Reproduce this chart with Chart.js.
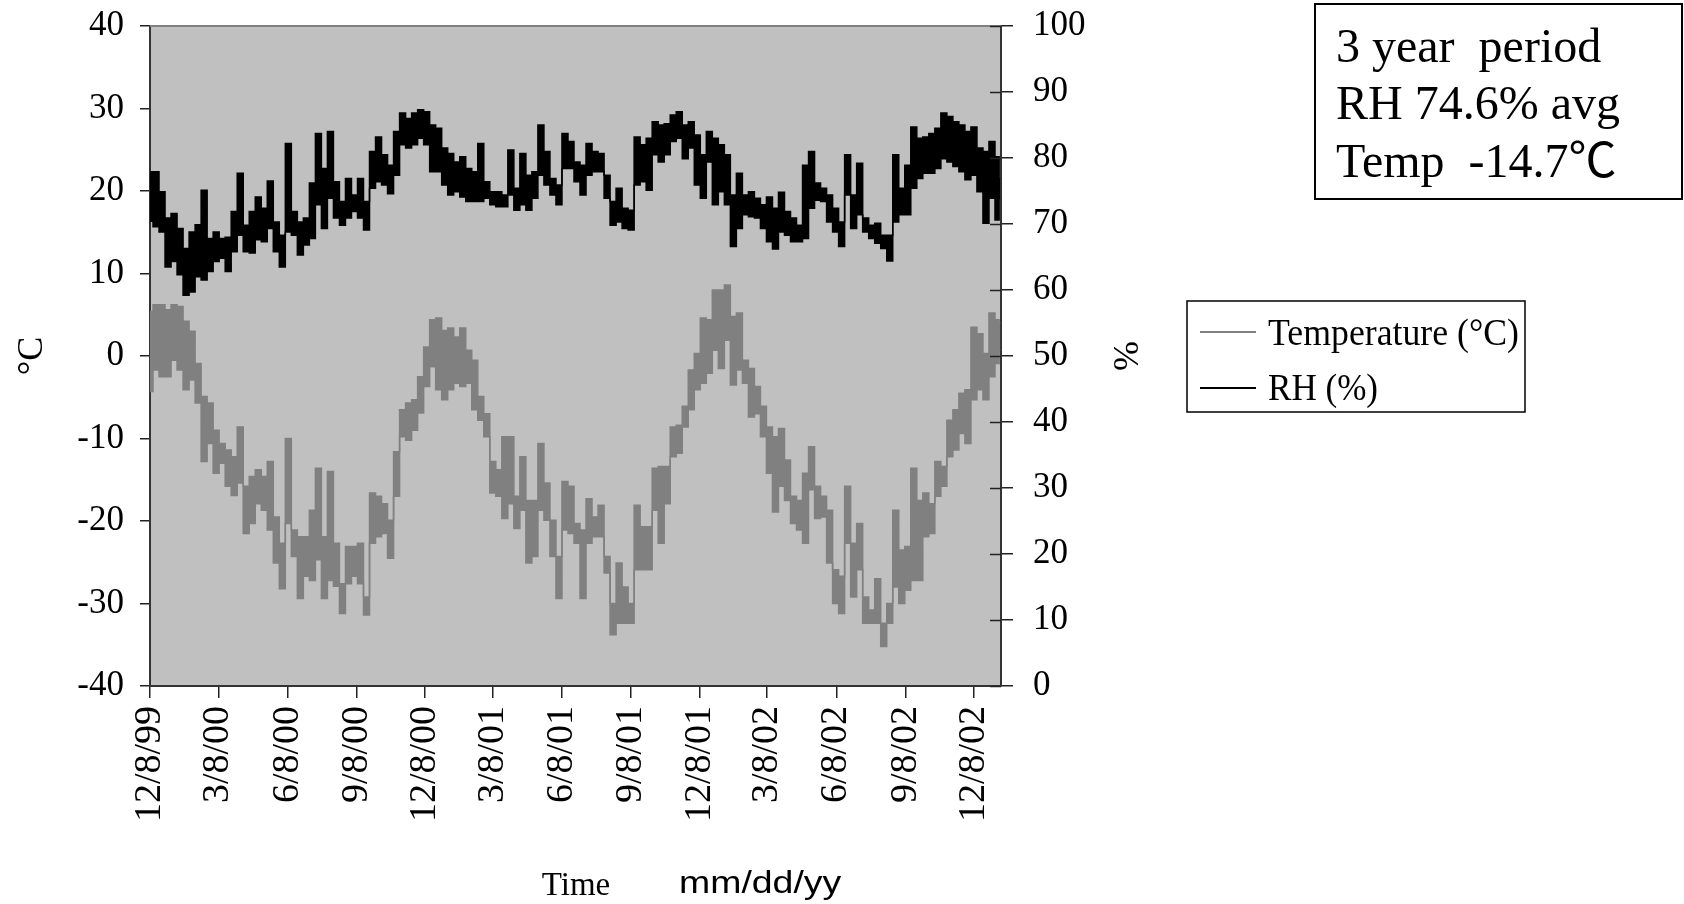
<!DOCTYPE html>
<html>
<head>
<meta charset="utf-8">
<title>3 year period - Temperature and RH</title>
<script src="https://cdn.jsdelivr.net/npm/chart.js@4.4.1/dist/chart.umd.min.js"></script>
<style>
  html, body { margin: 0; padding: 0; background: #fff; }
  #wrap { width: 1684px; height: 904px; }
</style>
</head>
<body>
<div id="wrap"><canvas id="climateChart" width="1684" height="904"></canvas></div>
<script>
// sample days counted from 12/8/99, each with the high and low edge of the trace
const days = [
  0, 8, 16, 24, 32, 40, 48, 56, 64, 72,
  80, 88, 96, 104, 112, 120, 128, 136, 144, 152,
  160, 168, 176, 184, 192, 200, 208, 216, 224, 232,
  240, 248, 256, 264, 272, 280, 288, 296, 304, 312,
  320, 328, 336, 344, 352, 360, 368, 376, 384, 392,
  400, 408, 416, 424, 432, 440, 448, 456, 464, 472,
  480, 488, 496, 504, 512, 520, 528, 536, 544, 552,
  560, 568, 576, 584, 592, 600, 608, 616, 624, 632,
  640, 648, 656, 664, 672, 680, 688, 696, 704, 712,
  720, 728, 736, 744, 752, 760, 768, 776, 784, 792,
  800, 808, 816, 824, 832, 840, 848, 856, 864, 872,
  880, 888, 896, 904, 912, 920, 928, 936, 944, 952,
  960, 968, 976, 984, 992, 1000, 1008, 1016, 1024, 1032,
  1040, 1048, 1056, 1064, 1072, 1080, 1088, 1096, 1104, 1112,
  1120, 1128, 1131
];

const rhHigh = [
  77.9, 77.9, 74.9, 70.9, 71.6, 69.3, 66.3, 68.8, 69.9, 75.1,
  67.8, 68.8, 67.8, 68.0, 71.9, 77.7, 69.8, 71.9, 74.1, 72.4,
  76.5, 70.3, 68.3, 82.2, 71.9, 70.3, 70.9, 76.2, 83.7, 78.4,
  84.0, 76.4, 73.4, 76.9, 74.4, 76.9, 73.4, 81.0, 83.2, 80.5,
  78.9, 84.0, 86.8, 86.0, 86.8, 87.3, 87.0, 85.0, 84.5, 81.5,
  80.7, 79.4, 80.2, 78.4, 77.9, 82.2, 76.4, 74.9, 74.9, 74.4,
  81.2, 75.4, 80.7, 77.4, 77.9, 85.0, 81.0, 76.9, 75.9, 83.7,
  82.5, 79.4, 78.9, 82.2, 81.0, 80.7, 77.4, 73.4, 75.4, 72.4,
  72.1, 83.2, 82.0, 83.0, 85.5, 85.0, 85.2, 86.5, 87.0, 85.0,
  85.5, 83.5, 80.5, 84.0, 83.0, 82.0, 80.5, 74.4, 77.7, 74.4,
  74.9, 73.9, 72.9, 74.1, 72.4, 74.8, 71.9, 70.9, 69.8, 78.9,
  81.0, 76.2, 75.4, 74.4, 72.4, 70.3, 80.5, 74.4, 79.2, 70.9,
  69.8, 70.1, 68.3, 68.3, 80.5, 75.4, 78.9, 84.7, 83.0, 83.2,
  83.7, 84.5, 86.8, 86.3, 85.5, 85.0, 84.0, 84.7, 81.5, 81.0,
  82.5, 80.2, 76.9
];

const rhLow = [
  70.4, 69.6, 68.8, 63.5, 64.3, 62.3, 59.2, 59.7, 62.0, 61.5,
  62.8, 64.3, 64.8, 62.8, 65.8, 68.3, 65.8, 65.6, 67.6, 67.3,
  69.3, 65.8, 63.5, 68.8, 68.3, 65.3, 66.8, 67.8, 72.9, 69.3,
  73.9, 70.9, 69.8, 70.9, 71.9, 70.9, 69.1, 75.4, 76.4, 75.9,
  74.6, 77.4, 82.0, 81.5, 82.0, 83.0, 82.0, 77.9, 77.9, 75.9,
  74.4, 74.9, 74.1, 73.4, 73.4, 73.4, 73.9, 72.9, 72.6, 72.6,
  74.4, 72.1, 72.9, 72.1, 73.9, 77.4, 75.9, 74.4, 72.9, 78.4,
  78.4, 76.4, 74.4, 77.4, 77.9, 77.9, 73.9, 69.8, 70.3, 69.3,
  69.1, 75.9, 76.4, 75.1, 80.5, 79.4, 80.5, 82.5, 83.0, 79.9,
  81.5, 75.9, 73.9, 79.4, 72.9, 74.9, 72.9, 66.6, 69.3, 71.4,
  71.1, 70.9, 69.3, 67.3, 66.2, 68.8, 68.3, 67.3, 67.3, 67.8,
  72.4, 73.6, 73.4, 70.3, 68.8, 66.6, 74.4, 69.3, 71.4, 68.8,
  67.8, 67.1, 66.3, 64.4, 70.3, 71.4, 71.4, 75.4, 76.9, 77.7,
  77.7, 78.4, 79.9, 79.4, 78.7, 77.9, 76.7, 77.4, 74.9, 70.1,
  73.9, 70.6, 73.9
];

const tempHigh = [
  5.4, 6.2, 6.2, 5.6, 6.2, 6.0, 4.2, 3.0, -0.9, -4.9,
  -5.7, -9.0, -10.6, -11.4, -12.2, -8.6, -15.8, -14.6, -13.8, -14.6,
  -12.8, -19.5, -22.7, -10.0, -21.1, -21.9, -21.9, -18.7, -13.6, -21.9,
  -14.0, -22.7, -27.6, -23.1, -23.1, -22.7, -29.2, -16.6, -17.0, -17.9,
  -19.9, -11.6, -6.5, -5.7, -5.3, -2.5, 1.1, 4.4, 4.6, 3.1,
  3.4, 2.3, 3.4, 0.7, -0.5, -4.9, -7.0, -12.8, -13.8, -9.8,
  -9.8, -17.0, -12.2, -17.5, -17.5, -10.6, -15.4, -19.9, -24.3, -15.2,
  -15.8, -20.3, -21.1, -17.3, -19.5, -18.1, -24.3, -30.0, -25.1, -28.0,
  -30.0, -18.1, -20.7, -20.7, -13.6, -13.4, -13.4, -8.6, -8.4, -6.1,
  -1.7, 0.3, 4.6, 4.4, 8.0, 8.0, 8.6, 4.8, 5.2, -0.5,
  -1.5, -3.7, -6.1, -8.6, -9.8, -8.8, -12.6, -17.0, -17.5, -14.2,
  -11.0, -15.8, -17.0, -18.7, -25.9, -26.7, -15.8, -22.7, -20.3, -29.2,
  -30.8, -27.0, -32.4, -30.0, -18.7, -23.5, -23.1, -13.6, -17.5, -16.6,
  -17.9, -12.8, -13.4, -7.8, -6.5, -4.5, -4.1, 3.5, 2.7, 0.3,
  5.2, 4.4, 4.0
];

const tempLow = [
  -4.3, -1.7, -2.5, -2.5, -0.5, -1.7, -4.1, -2.9, -5.7, -12.8,
  -10.6, -14.2, -13.0, -15.8, -16.9, -15.4, -21.5, -20.3, -17.9, -18.7,
  -21.1, -25.1, -28.2, -20.3, -24.3, -29.4, -26.7, -27.2, -24.7, -29.4,
  -27.2, -27.9, -31.2, -27.6, -26.7, -27.6, -31.4, -22.7, -21.9, -21.5,
  -24.5, -17.0, -9.8, -10.2, -9.0, -6.9, -3.7, -1.3, -4.1, -5.3,
  -4.1, -3.3, -3.7, -3.3, -6.5, -7.8, -9.8, -16.6, -17.0, -19.7,
  -17.9, -20.9, -18.7, -25.1, -24.3, -18.7, -19.9, -24.3, -29.4, -21.1,
  -21.5, -22.7, -29.4, -22.7, -21.9, -21.9, -26.3, -33.8, -32.4, -32.4,
  -32.4, -25.9, -25.9, -25.9, -18.7, -22.7, -17.9, -12.2, -11.8, -8.6,
  -6.5, -4.1, -3.3, -2.1, 0.7, -1.5, 1.9, -3.5, -1.7, -3.3,
  -7.4, -7.0, -9.8, -14.2, -18.9, -15.8, -17.5, -20.3, -21.1, -22.7,
  -16.2, -19.7, -19.5, -25.1, -30.0, -31.2, -22.7, -29.2, -25.9, -32.4,
  -32.4, -32.4, -35.2, -32.4, -28.0, -30.0, -28.4, -27.2, -27.2, -21.9,
  -21.5, -17.0, -15.8, -12.2, -11.4, -9.4, -10.6, -5.3, -4.1, -5.3,
  -2.5, -0.9, 0.7
];

// x axis: day offsets of the date ticks and their labels
const tickDays = [0, 91, 183, 275, 366, 456, 548, 640, 731, 821, 913, 1005, 1096];
const tickLabels = ['12/8/99', '3/8/00', '6/8/00', '9/8/00', '12/8/00', '3/8/01', '6/8/01',
  '9/8/01', '12/8/01', '3/8/02', '6/8/02', '9/8/02', '12/8/02'];
const lastDay = 1132;

const seriesNames = ['Temperature (\u00B0C)', 'RH (%)'];
const noteLines = ['3 year  period', 'RH 74.6% avg', 'Temp  -14.7\u2103'];

const SERIF = "'Liberation Serif', 'Times New Roman', serif";
const GREY = '#808080';

function pts(vals) {
  return days.map((d, i) => ({ x: d, y: vals[i] }));
}

// keep the label padding from pushing the plot area down
function fixWidth(w) {
  return scale => {
    scale.width = w;
    scale.paddingTop = 21;
    scale.paddingBottom = 21;
  };
}

// background, box text, legend, inner ticks of the right axis
const decor = {
  id: 'decor',
  beforeDraw(chart) {
    const { ctx, chartArea: a } = chart;
    ctx.save();
    ctx.fillStyle = '#fff';
    ctx.fillRect(0, 0, chart.width, chart.height);
    ctx.fillStyle = '#c0c0c0';
    ctx.fillRect(a.left, a.top, a.right - a.left, a.bottom - a.top);
    ctx.restore();
  },
  afterDraw(chart) {
    const { ctx, chartArea: a } = chart;
    ctx.save();

    ctx.strokeStyle = GREY;
    ctx.lineWidth = 2;
    ctx.beginPath();
    ctx.moveTo(a.left, a.top);
    ctx.lineTo(a.right, a.top);
    ctx.stroke();

    const y1 = chart.scales.y1;
    ctx.strokeStyle = '#222';
    ctx.lineWidth = 1.5;
    y1.ticks.forEach(t => {
      const py = Math.round(y1.getPixelForValue(t.value)) + 0.5;
      ctx.beginPath();
      ctx.moveTo(a.right - 11, py);
      ctx.lineTo(a.right, py);
      ctx.stroke();
    });

    // summary box
    ctx.fillStyle = '#fff';
    ctx.fillRect(1315, 4, 367, 195);
    ctx.strokeStyle = '#000';
    ctx.lineWidth = 2;
    ctx.strokeRect(1315, 4, 367, 195);
    ctx.fillStyle = '#000';
    ctx.textAlign = 'left';
    ctx.textBaseline = 'alphabetic';
    ctx.font = '48px ' + SERIF;
    ctx.fillText(noteLines[0], 1336, 62, 266);
    ctx.fillText(noteLines[1], 1336, 119, 285);
    ctx.font = '48px ' + SERIF + ", 'Noto Sans CJK JP'";
    ctx.fillText(noteLines[2], 1336, 177, 283);

    // legend
    ctx.fillStyle = '#fff';
    ctx.fillRect(1187, 301, 338, 111);
    ctx.strokeStyle = '#000';
    ctx.lineWidth = 1.5;
    ctx.strokeRect(1187, 301, 338, 111);
    ctx.lineWidth = 2;
    ctx.strokeStyle = GREY;
    ctx.beginPath(); ctx.moveTo(1200, 332); ctx.lineTo(1256, 332); ctx.stroke();
    ctx.strokeStyle = '#000';
    ctx.beginPath(); ctx.moveTo(1200, 388); ctx.lineTo(1256, 388); ctx.stroke();
    ctx.fillStyle = '#000';
    ctx.font = '38px ' + SERIF;
    ctx.fillText(seriesNames[0], 1268, 345, 251);
    ctx.fillText(seriesNames[1], 1268, 400, 110);

    // x axis caption
    ctx.font = '33px ' + SERIF;
    ctx.textAlign = 'center';
    ctx.fillText('Time', 576, 895);
    ctx.textAlign = 'left';
    ctx.font = "32px 'Liberation Sans', Arial, sans-serif";
    ctx.translate(679, 893);
    ctx.scale(1.17, 1);
    ctx.fillText('mm/dd/yy', 0, 0);

    ctx.restore();
  }
};

Chart.defaults.font.family = SERIF;
Chart.defaults.color = '#000';

new Chart(document.getElementById('climateChart'), {
  type: 'line',
  data: {
    datasets: [
      {
        label: seriesNames[1],
        data: pts(rhHigh),
        yAxisID: 'y1',
        borderColor: '#000',
        backgroundColor: '#000',
        borderWidth: 1.5,
        pointRadius: 0,
        stepped: 'middle',
        fill: '+1'
      },
      {
        label: seriesNames[1] + ' low',
        data: pts(rhLow),
        yAxisID: 'y1',
        borderColor: '#000',
        borderWidth: 1.5,
        pointRadius: 0,
        stepped: 'middle',
        fill: false
      },
      {
        label: seriesNames[0],
        data: pts(tempHigh),
        yAxisID: 'y',
        borderColor: GREY,
        backgroundColor: GREY,
        borderWidth: 1.5,
        pointRadius: 0,
        stepped: 'middle',
        fill: '+1'
      },
      {
        label: seriesNames[0] + ' low',
        data: pts(tempLow),
        yAxisID: 'y',
        borderColor: GREY,
        borderWidth: 1.5,
        pointRadius: 0,
        stepped: 'middle',
        fill: false
      }
    ]
  },
  options: {
    responsive: false,
    animation: false,
    events: [],
    layout: { padding: { top: 26, left: 0, right: 534, bottom: 0 } },
    plugins: {
      legend: { display: false },
      tooltip: { enabled: false }
    },
    scales: {
      x: {
        type: 'linear',
        min: 0,
        max: lastDay,
        afterBuildTicks: scale => {
          scale.ticks = tickDays.map(v => ({ value: v }));
        },
        afterFit: scale => { scale.height = 218; },
        ticks: {
          autoSkip: false,
          minRotation: 90,
          maxRotation: 90,
          padding: 8,
          font: { size: 38 },
          callback: value => tickLabels[tickDays.indexOf(value)]
        },
        grid: { drawOnChartArea: false, tickLength: 12, color: '#222', lineWidth: 1.5 },
        border: { display: true, color: '#333', width: 2 }
      },
      y: {
        position: 'left',
        min: -40,
        max: 40,
        afterFit: fixWidth(150),
        ticks: { stepSize: 10, padding: 16, font: { size: 35 } },
        grid: { drawOnChartArea: false, tickLength: 10, color: '#222', lineWidth: 1.5 },
        border: { display: true, color: '#333', width: 2 },
        title: { display: true, text: '\u00B0C', font: { size: 36 }, padding: { top: 11, bottom: 0 } }
      },
      y1: {
        position: 'right',
        min: 0,
        max: 100,
        afterFit: fixWidth(149),
        ticks: { stepSize: 10, padding: 20, font: { size: 35 } },
        grid: { drawOnChartArea: false, tickLength: 12, color: '#222', lineWidth: 1.5 },
        border: { display: true, color: '#333', width: 2 },
        title: { display: true, text: '%', font: { size: 36 }, padding: { top: 5, bottom: 0 } }
      }
    }
  },
  plugins: [decor]
});
</script>
</body>
</html>
